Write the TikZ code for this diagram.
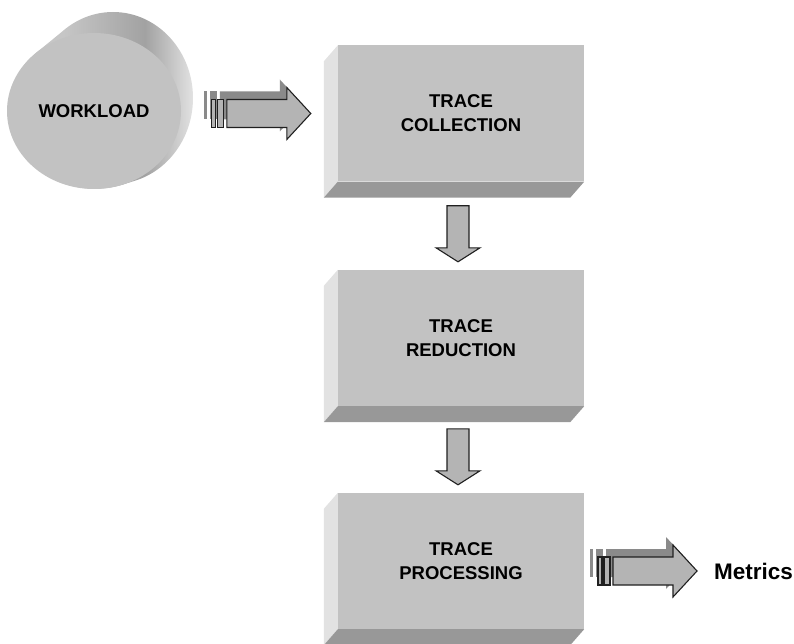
\documentclass[tikz,border=0pt]{standalone}
\usepackage{fontspec}
\setmainfont{Liberation Sans}
\usetikzlibrary{calc,shapes.geometric}
\definecolor{frontc}{HTML}{C2C2C2}
\definecolor{leftc}{HTML}{E2E2E2}
\definecolor{botc}{HTML}{989898}
\definecolor{arrc}{HTML}{B4B4B4}
\definecolor{arrsh}{HTML}{8A8A8A}
\definecolor{linec}{HTML}{202020}
\definecolor{cylL}{HTML}{C6C6C6}
\definecolor{cylD}{HTML}{A2A2A2}
\definecolor{cylR}{HTML}{E2E2E2}
\pgfdeclarehorizontalshading{cylside}{100bp}{color(0bp)=(cylL); color(25bp)=(cylL); color(40bp)=(cylL); color(62bp)=(cylD); color(75bp)=(cylR); color(100bp)=(cylR)}
\tikzset{
  boxfront/.style={fill=frontc, minimum width=246pt, minimum height=136pt, inner sep=0pt,
    align=center, font=\bfseries\fontsize{18.5}{24}\selectfont},
  leftface/.style={fill=leftc},
  botface/.style={fill=botc},
  afront/.style={fill=arrc, draw=linec, line width=1.1pt, line join=miter},
  ashadow/.style={fill=arrsh},
  rarrow/.pic={
    \begin{scope}[shift={(-7,-8)}]
      \fill[ashadow] (-84,-14) -- (-24,-14) -- (-24,-26) -- (0,0) -- (-24,26) -- (-24,14) -- (-84,14) -- cycle;
      \fill[ashadow] (-100,-14) rectangle (-97,14);
      \fill[ashadow] (-94,-14) rectangle (-87,14);
    \end{scope}
    \path[afront] (-84,-14) -- (-24,-14) -- (-24,-26) -- (0,0) -- (-24,26) -- (-24,14) -- (-84,14) -- cycle;
    \path[afront] (-99,-14) rectangle (-95,14);
    \path[afront] (-93,-14) rectangle (-87,14);
  },
  darrow/.pic={
    \path[afront] (-11,-56) -- (11,-56) -- (11,-14) -- (22,-14) -- (0,0) -- (-22,-14) -- (-11,-14) -- cycle;
  }
}
\begin{document}
\begin{tikzpicture}[x=1pt,y=-1pt]
\useasboundingbox (0,0) rectangle (794,644);

% workload cylinder (side), then front face
\path[shading=cylside]
  \foreach \t in {0,0.05,...,1.0} { ({113-19*\t},{98+13*\t}) ellipse ({80+7*\t} and {86-8*\t}) };
\node[ellipse, fill=frontc, minimum width=174pt, minimum height=156pt, inner sep=0pt,
  font=\bfseries\fontsize{18.5}{24}\selectfont] (wl) at (94,111) {WORKLOAD};

% boxes
\node[boxfront] (c1) at (461,113.5) {TRACE\\COLLECTION};
\node[boxfront] (c2) at (461,338) {TRACE\\REDUCTION};
\node[boxfront] (c3) at (461,561) {TRACE\\PROCESSING};
\foreach \b in {c1,c2,c3}{
  \fill[leftface] (\b.north west) -- ++(-14,16) -- ($(\b.south west)+(-14,16)$) -- (\b.south west) -- cycle;
  \fill[botface] (\b.south west) -- (\b.south east) -- ++(-14,16) -- ($(\b.south west)+(-14,16)$) -- cycle;
}

\node[anchor=west, inner sep=0pt, font=\bfseries\fontsize{22.5}{27}\selectfont] (m) at (714,571) {Metrics};

% arrows
\pic at ($(c1.west)+(-27,0)$) {rarrow};
\pic at ($(c2.north)+(-3,-8)$) {darrow};
\pic at ($(c3.north)+(-3,-8)$) {darrow};
\pic at ($(m.west)+(-17,0)$) {rarrow};
\end{tikzpicture}
\end{document}
